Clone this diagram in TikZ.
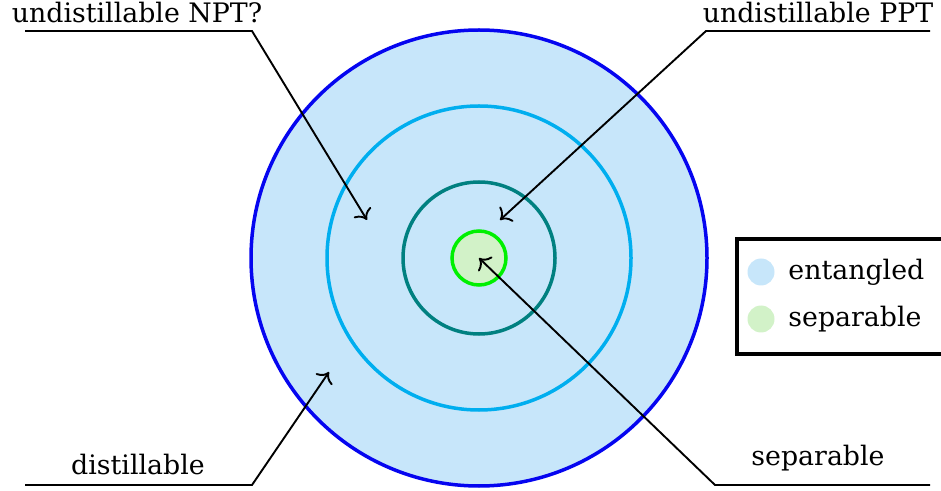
\documentclass[tikz,border=0pt]{standalone}
\usepackage{fontspec}
\usetikzlibrary{arrows.meta}
\setmainfont{DejaVu Serif}
\definecolor{entfill}{RGB}{199,230,250}
\definecolor{sepfill}{RGB}{210,242,200}
\definecolor{ringone}{RGB}{5,5,240}
\definecolor{ringtwo}{RGB}{0,174,239}
\definecolor{ringthree}{RGB}{0,128,128}
\definecolor{ringfour}{RGB}{0,240,0}
\begin{document}
\begin{tikzpicture}[x=0.5pt,y=-0.5pt,
  ring/.style={circle,inner sep=0pt,line width=1.75pt},
  lbl/.style={font=\fontsize{13.4}{16}\selectfont,inner sep=0pt},
  conn/.style={draw,line width=0.95pt,-{To[scale=1.3]}},
  dot/.style={circle,inner sep=0pt,minimum size=13.5pt}]
\useasboundingbox (0,0) rectangle (941,491);
\clip (0,0) rectangle (941,491);
\node[ring,draw=ringone,fill=entfill,minimum size=456*0.5pt] (c1) at (479,258) {};
\node[ring,draw=ringtwo,minimum size=304*0.5pt] (c2) at (479,258) {};
\node[ring,draw=ringthree,minimum size=152*0.5pt] (c3) at (479,258) {};
\node[ring,draw=ringfour,fill=sepfill,minimum size=54*0.5pt] (c4) at (479,258) {};
% labels
\node[lbl] (npt) at (137,13) {undistillable NPT?};
\node[lbl] (ppt) at (818,13) {undistillable PPT};
\node[lbl] (dis) at (138,465) {distillable};
\node[lbl] (sep) at (818,458) {separable};
% corners and tips
\coordinate (nptL) at (25,31);  \coordinate (nptK) at (252,31);  \coordinate (nptT) at (367,220);
\coordinate (pptR) at (930,31); \coordinate (pptK) at (706,31);  \coordinate (pptT) at (500,220);
\coordinate (disL) at (25,485); \coordinate (disK) at (252,485); \coordinate (disT) at (329,372);
\coordinate (sepR) at (930,485);\coordinate (sepK) at (715,485); \coordinate (sepT) at (479,258);
\draw[conn] (nptL) -- (nptK) -- (nptT);
\draw[conn] (pptR) -- (pptK) -- (pptT);
\draw[conn] (disL) -- (disK) -- (disT);
\draw[conn] (sepR) -- (sepK) -- (sepT);
% legend
\node[draw,line width=1.75pt,minimum width=210*0.5pt,minimum height=115*0.5pt,inner sep=0pt] (leg) at (842,296.5) {};
\node[dot,fill=entfill] (d1) at (761,272) {};
\node[dot,fill=sepfill] (d2) at (761,319) {};
\node[lbl,anchor=west] (t1) at (788,272) {entangled};
\node[lbl,anchor=west] (t2) at (788,319) {separable};
\end{tikzpicture}
\end{document}
